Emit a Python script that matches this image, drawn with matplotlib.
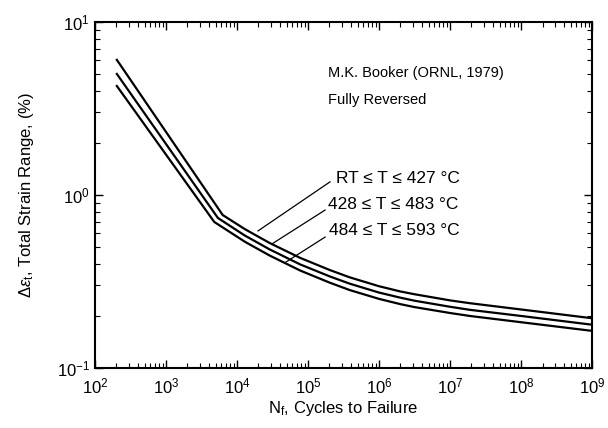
import matplotlib
matplotlib.use("Agg")
import matplotlib.pyplot as plt
from matplotlib.ticker import LogLocator, NullFormatter

plt.rcParams['font.family'] = ['Liberation Sans', 'DejaVu Sans']
plt.rcParams['mathtext.fontset'] = 'custom'
plt.rcParams['mathtext.rm'] = 'Liberation Sans'
plt.rcParams['mathtext.it'] = 'Liberation Sans:italic'

# Cycles to failure (N_f) and total strain range (%) for each temperature band
n_rt = [204, 6300, 12900, 28800, 77600, 204000, 389000, 1e6, 2e6, 3.16e6, 1e7, 1.9e7, 1e8, 1e9]
e_rt = [6.03, 0.766, 0.635, 0.528, 0.433, 0.368, 0.334, 0.297, 0.277, 0.267, 0.246, 0.237, 0.218, 0.194]

n_mid = [204, 5400, 12900, 28800, 77600, 204000, 389000, 1e6, 2e6, 3.16e6, 1e7, 1.9e7, 1e8, 1e9]
e_mid = [5.0, 0.736, 0.583, 0.485, 0.397, 0.338, 0.307, 0.273, 0.255, 0.245, 0.226, 0.217, 0.200, 0.178]

n_hi = [204, 4800, 12900, 28800, 77600, 204000, 389000, 1e6, 2e6, 3.16e6, 1e7, 1.9e7, 1e8, 1e9]
e_hi = [4.26, 0.698, 0.537, 0.447, 0.366, 0.311, 0.282, 0.251, 0.234, 0.225, 0.208, 0.200, 0.184, 0.164]

labels = ["RT \u2264 T \u2264 427 \u00b0C",
          "428 \u2264 T \u2264 483 \u00b0C",
          "484 \u2264 T \u2264 593 \u00b0C"]

fig = plt.figure(figsize=(6.08, 4.28), dpi=100)
ax = fig.add_axes([0.156, 0.140, 0.818, 0.809])

for n, e in [(n_rt, e_rt), (n_mid, e_mid), (n_hi, e_hi)]:
    ax.plot(n, e, color='black', lw=1.6, solid_joinstyle='round')

ax.set_xscale('log')
ax.set_yscale('log')
ax.set_xlim(1e2, 1e9)
ax.set_ylim(1e-1, 1e1)

ax.xaxis.set_major_locator(LogLocator(base=10, numticks=20))
ax.xaxis.set_minor_locator(LogLocator(base=10, subs=range(2, 10), numticks=20))
ax.yaxis.set_major_locator(LogLocator(base=10, numticks=20))
ax.yaxis.set_minor_locator(LogLocator(base=10, subs=range(2, 10), numticks=20))
ax.xaxis.set_minor_formatter(NullFormatter())
ax.yaxis.set_minor_formatter(NullFormatter())

ax.tick_params(which='both', direction='in', top=True, right=True, labelsize=12)
ax.tick_params(which='major', length=6, width=1.0)
ax.tick_params(which='minor', length=3.5, width=0.8)
ax.tick_params(axis='x', pad=6)
for s in ax.spines.values():
    s.set_linewidth(1.5)

ax.set_xlabel(r'N$_\mathrm{f}$, Cycles to Failure', fontsize=12, labelpad=2)
ax.set_ylabel(r'$\Delta\varepsilon_\mathrm{t}$, Total Strain Range, (%)', fontsize=12, labelpad=15)

# annotation text
ax.text(0.468, 0.852, 'M.K. Booker (ORNL, 1979)', transform=ax.transAxes,
        fontsize=10.5, va='center', ha='left')
ax.text(0.468, 0.774, 'Fully Reversed', transform=ax.transAxes,
        fontsize=10.5, va='center', ha='left')

# leader lines (curve end -> label end) and labels
lead_start = [(19800, 0.62), (31000, 0.521), (49000, 0.41)]
lead_end = [(2.04e5, 1.19), (1.74e5, 0.818), (1.74e5, 0.571)]
text_pos = [(2.45e5, 1.25), (1.9e5, 0.88), (1.95e5, 0.625)]
for lab, (sx, sy), (ex, ey), (px, py) in zip(labels, lead_start, lead_end, text_pos):
    ax.plot([sx, ex], [sy, ey], color='black', lw=0.9)
    ax.text(px, py, lab, fontsize=12.5, va='center', ha='left')

fig.savefig('out.png', dpi=100)
